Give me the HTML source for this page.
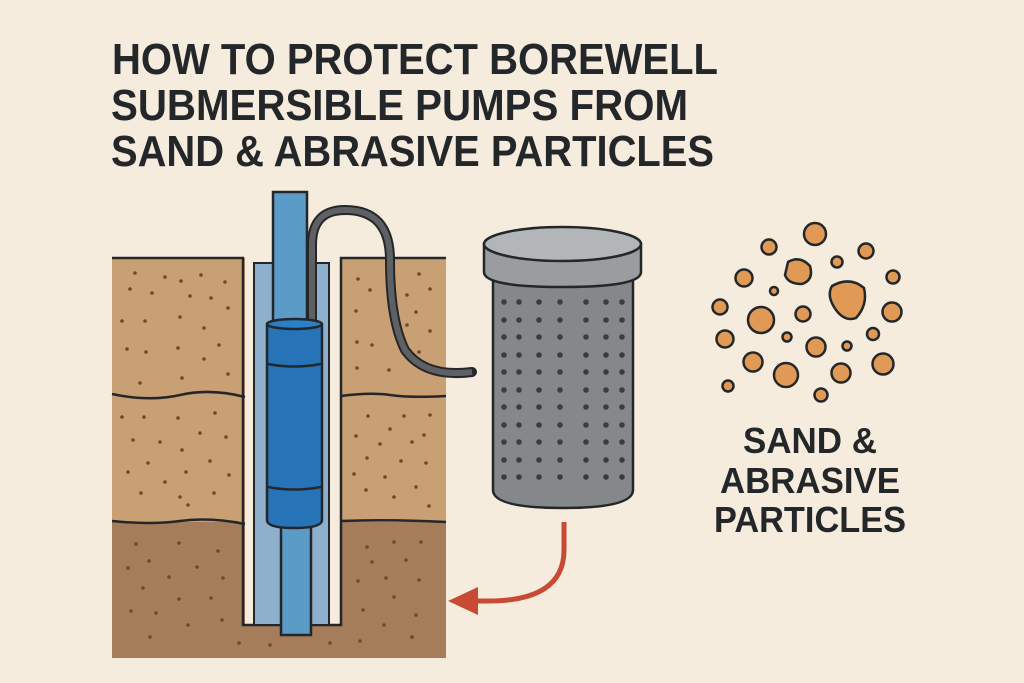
<!DOCTYPE html>
<html><head><meta charset="utf-8"><style>
html,body{margin:0;padding:0;background:#f6ecdd}
svg{display:block}
text{font-family:"Liberation Sans",sans-serif;font-weight:bold;fill:#24272a}
</style></head><body>
<svg width="1024" height="683" viewBox="0 0 1024 683" xmlns="http://www.w3.org/2000/svg">
<defs>
<g id="col" fill="#3a3d40">
<circle cx="0" cy="302" r="2.8"/><circle cx="0" cy="320" r="2.8"/><circle cx="0" cy="337" r="2.8"/><circle cx="0" cy="355" r="2.8"/><circle cx="0" cy="372" r="2.8"/><circle cx="0" cy="390" r="2.8"/><circle cx="0" cy="407" r="2.8"/><circle cx="0" cy="425" r="2.8"/><circle cx="0" cy="442" r="2.8"/><circle cx="0" cy="460" r="2.8"/><circle cx="0" cy="477" r="2.8"/>
</g>
</defs>
<rect width="1024" height="683" fill="#f6ecdd"/>
<text x="112" y="74" font-size="44" textLength="606" lengthAdjust="spacingAndGlyphs">HOW TO PROTECT BOREWELL</text>
<text x="111" y="120" font-size="44" textLength="577" lengthAdjust="spacingAndGlyphs">SUBMERSIBLE PUMPS FROM</text>
<text x="111" y="166" font-size="44" textLength="603" lengthAdjust="spacingAndGlyphs">SAND &amp; ABRASIVE PARTICLES</text>

<g stroke="#24272a" stroke-width="2.5">
<rect x="112" y="258" width="133" height="137" fill="#c9a074" stroke="none"/>
<rect x="112" y="395" width="133" height="127" fill="#c9a074" stroke="none"/>
<rect x="112" y="522" width="133" height="136" fill="#a57d5a" stroke="none"/>
<rect x="341" y="258" width="105" height="137" fill="#c9a074" stroke="none"/>
<rect x="341" y="395" width="105" height="127" fill="#c9a074" stroke="none"/>
<rect x="341" y="522" width="105" height="136" fill="#a57d5a" stroke="none"/>
<rect x="245" y="625" width="96" height="33" fill="#a57d5a" stroke="none"/>
<path d="M112 258H243V625H341V258H446" fill="none"/>
<path d="M112 394 Q150 402 180 395 T245 397" fill="none"/>
<path d="M341 396 Q370 392 390 395 T446 396" fill="none"/>
<path d="M112 521 Q150 525 180 521 T245 524" fill="none"/>
<path d="M341 521 Q390 519 446 522" fill="none"/>
</g>
<g fill="#6b4a30">
<circle cx="135" cy="273" r="1.8"/><circle cx="165" cy="277" r="1.8"/><circle cx="181" cy="281" r="1.8"/><circle cx="201" cy="275" r="1.8"/><circle cx="225" cy="282" r="1.8"/><circle cx="130" cy="289" r="1.8"/><circle cx="152" cy="293" r="1.8"/><circle cx="190" cy="296" r="1.8"/><circle cx="211" cy="298" r="1.8"/><circle cx="228" cy="308" r="1.8"/><circle cx="122" cy="321" r="1.8"/><circle cx="145" cy="321" r="1.8"/><circle cx="180" cy="317" r="1.8"/><circle cx="204" cy="328" r="1.8"/><circle cx="127" cy="349" r="1.8"/><circle cx="146" cy="352" r="1.8"/><circle cx="178" cy="348" r="1.8"/><circle cx="219" cy="345" r="1.8"/><circle cx="204" cy="359" r="1.8"/><circle cx="140" cy="383" r="1.8"/><circle cx="182" cy="378" r="1.8"/><circle cx="228" cy="374" r="1.8"/>
<circle cx="122" cy="417" r="1.8"/><circle cx="144" cy="417" r="1.8"/><circle cx="178" cy="418" r="1.8"/><circle cx="215" cy="413" r="1.8"/><circle cx="133" cy="440" r="1.8"/><circle cx="160" cy="442" r="1.8"/><circle cx="200" cy="433" r="1.8"/><circle cx="226" cy="437" r="1.8"/><circle cx="182" cy="450" r="1.8"/><circle cx="148" cy="463" r="1.8"/><circle cx="210" cy="461" r="1.8"/><circle cx="128" cy="472" r="1.8"/><circle cx="165" cy="482" r="1.8"/><circle cx="186" cy="472" r="1.8"/><circle cx="229" cy="475" r="1.8"/><circle cx="141" cy="493" r="1.8"/><circle cx="180" cy="497" r="1.8"/><circle cx="214" cy="493" r="1.8"/><circle cx="188" cy="505" r="1.8"/>
<circle cx="136" cy="544" r="1.8"/><circle cx="179" cy="543" r="1.8"/><circle cx="218" cy="551" r="1.8"/><circle cx="149" cy="561" r="1.8"/><circle cx="128" cy="568" r="1.8"/><circle cx="197" cy="567" r="1.8"/><circle cx="169" cy="577" r="1.8"/><circle cx="223" cy="578" r="1.8"/><circle cx="143" cy="588" r="1.8"/><circle cx="179" cy="599" r="1.8"/><circle cx="211" cy="598" r="1.8"/><circle cx="131" cy="611" r="1.8"/><circle cx="156" cy="613" r="1.8"/><circle cx="222" cy="620" r="1.8"/><circle cx="188" cy="625" r="1.8"/><circle cx="150" cy="637" r="1.8"/><circle cx="239" cy="643" r="1.8"/><circle cx="270" cy="645" r="1.8"/><circle cx="330" cy="643" r="1.8"/><circle cx="360" cy="641" r="1.8"/><circle cx="412" cy="637" r="1.8"/>
<circle cx="358" cy="279" r="1.8"/><circle cx="419" cy="274" r="1.8"/><circle cx="370" cy="290" r="1.8"/><circle cx="407" cy="295" r="1.8"/><circle cx="430" cy="289" r="1.8"/><circle cx="356" cy="311" r="1.8"/><circle cx="416" cy="312" r="1.8"/><circle cx="407" cy="325" r="1.8"/><circle cx="430" cy="331" r="1.8"/><circle cx="357" cy="342" r="1.8"/><circle cx="372" cy="345" r="1.8"/><circle cx="419" cy="352" r="1.8"/><circle cx="357" cy="368" r="1.8"/><circle cx="389" cy="370" r="1.8"/>
<circle cx="368" cy="416" r="1.8"/><circle cx="404" cy="416" r="1.8"/><circle cx="430" cy="415" r="1.8"/><circle cx="390" cy="429" r="1.8"/><circle cx="356" cy="436" r="1.8"/><circle cx="380" cy="444" r="1.8"/><circle cx="412" cy="442" r="1.8"/><circle cx="424" cy="435" r="1.8"/><circle cx="367" cy="458" r="1.8"/><circle cx="401" cy="461" r="1.8"/><circle cx="426" cy="463" r="1.8"/><circle cx="354" cy="474" r="1.8"/><circle cx="385" cy="477" r="1.8"/><circle cx="366" cy="490" r="1.8"/><circle cx="394" cy="497" r="1.8"/><circle cx="416" cy="487" r="1.8"/><circle cx="429" cy="506" r="1.8"/>
<circle cx="367" cy="547" r="1.8"/><circle cx="394" cy="542" r="1.8"/><circle cx="421" cy="542" r="1.8"/><circle cx="372" cy="562" r="1.8"/><circle cx="406" cy="560" r="1.8"/><circle cx="358" cy="581" r="1.8"/><circle cx="386" cy="578" r="1.8"/><circle cx="419" cy="580" r="1.8"/><circle cx="394" cy="597" r="1.8"/><circle cx="363" cy="610" r="1.8"/><circle cx="416" cy="615" r="1.8"/><circle cx="384" cy="625" r="1.8"/><circle cx="412" cy="637" r="1.8"/>
</g>

<rect x="254" y="263" width="75" height="362" fill="#8fb0cc" stroke="#24272a" stroke-width="2"/>
<rect x="273" y="192" width="34" height="130" fill="#5b9bc8" stroke="#24272a" stroke-width="2.5"/>
<rect x="281" y="520" width="30" height="115" fill="#5b9bc8" stroke="#24272a" stroke-width="2.5"/>
<path d="M312 322 V245 Q312 210 345 210 Q390 210 390 260 Q390 320 405 350 Q425 378 472 372" fill="none" stroke="#24272a" stroke-width="10" stroke-linecap="round"/>
<path d="M312 322 V245 Q312 210 345 210 Q390 210 390 260 Q390 320 405 350 Q425 378 472 372" fill="none" stroke="#5e6063" stroke-width="6"/>
<path d="M267 325 V520 Q267 528 294 528 Q322 528 322 520 V325 Z" fill="#2673b8" stroke="#24272a" stroke-width="2.5"/>
<ellipse cx="294.5" cy="324" rx="27.5" ry="5" fill="#2a80c6" stroke="#24272a" stroke-width="2.5"/>
<path d="M268 364 Q294 369 321 364 M268 487 Q294 492 321 487" fill="none" stroke="#24272a" stroke-width="2.5"/>

<path d="M493 280 V490 Q493 508 563 508 Q633 508 633 490 V280 Z" fill="#85888b" stroke="#24272a" stroke-width="2.5"/>
<path d="M484 244 V272 Q484 287 563 287 Q641 287 641 272 V244 Z" fill="#9a9d9f" stroke="#24272a" stroke-width="2.5"/>
<ellipse cx="562.5" cy="244" rx="78.5" ry="17" fill="#b3b6b8" stroke="#24272a" stroke-width="2.5"/>
<use href="#col" x="504"/><use href="#col" x="519"/><use href="#col" x="539"/><use href="#col" x="560"/><use href="#col" x="586"/><use href="#col" x="606"/><use href="#col" x="622"/>

<path d="M564 522 V550 Q564 602 485 601 H470" fill="none" stroke="#c84a35" stroke-width="5"/>
<path d="M448 601 L478 587 L478 615 Z" fill="#c84a35"/>

<g fill="#e09a55" stroke="#24272a" stroke-width="2.5">
<circle cx="815" cy="234" r="11"/><circle cx="769" cy="247" r="7.5"/><circle cx="866" cy="251" r="7.5"/>
<path d="M788 262 Q800 255 810 266 Q814 280 802 284 Q788 284 785 275 Z"/>
<circle cx="837" cy="262" r="5.5"/><circle cx="893" cy="277" r="6.5"/><circle cx="744" cy="278" r="8.5"/><circle cx="774" cy="291" r="4"/>
<path d="M832 286 Q850 276 864 288 Q868 305 856 318 Q845 322 836 310 Q826 296 832 286 Z"/>
<circle cx="720" cy="307" r="7.5"/><circle cx="761" cy="320" r="13"/><circle cx="803" cy="314" r="7.5"/><circle cx="892" cy="312" r="9.5"/>
<circle cx="725" cy="339" r="8.5"/><circle cx="787" cy="337" r="4.5"/><circle cx="816" cy="347" r="9.5"/><circle cx="847" cy="346" r="4.5"/><circle cx="873" cy="334" r="6"/>
<circle cx="753" cy="362" r="9.5"/><circle cx="786" cy="375" r="12"/><circle cx="841" cy="373" r="9.5"/><circle cx="883" cy="364" r="10.5"/>
<circle cx="728" cy="386" r="5.5"/><circle cx="821" cy="395" r="6.5"/>
</g>
<text x="810" y="453" font-size="36" text-anchor="middle" textLength="134" lengthAdjust="spacingAndGlyphs">SAND &amp;</text>
<text x="810" y="493" font-size="36" text-anchor="middle" textLength="180" lengthAdjust="spacingAndGlyphs">ABRASIVE</text>
<text x="810" y="532" font-size="36" text-anchor="middle" textLength="192" lengthAdjust="spacingAndGlyphs">PARTICLES</text>
</svg>
</body></html>
